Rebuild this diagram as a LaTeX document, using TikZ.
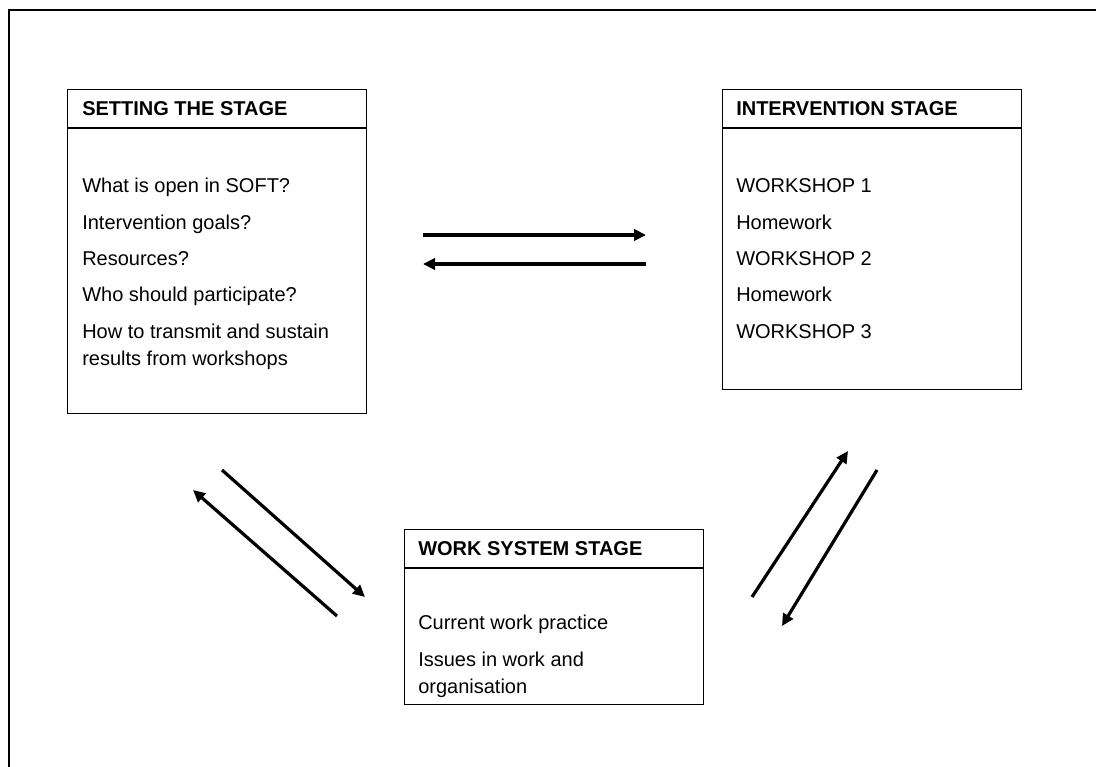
\documentclass[tikz,border=0pt]{standalone}
\usepackage{fontspec}
\setmainfont{Liberation Sans}
\usetikzlibrary{arrows.meta}
\definecolor{inkBlack}{HTML}{000000}
\definecolor{paperWhite}{HTML}{FFFFFF}
\tikzset{
    stagebox/.style={draw=inkBlack,fill=paperWhite,line width=1pt,
        minimum width=224.25pt,inner sep=0pt,anchor=north west},
    stagehead/.style={anchor=base west,inner sep=0pt,
        font=\bfseries\fontsize{15}{18}\selectfont},
    stagebody/.style={anchor=base west,inner sep=0pt,align=left,
        font=\fontsize{15}{20.25}\selectfont},
    headrule/.style={draw=inkBlack,line width=1pt},
    frameline/.style={draw=inkBlack,line width=1pt},
    flowarrow/.style={-{Triangle[length=9pt,width=8.5pt]},draw=inkBlack,line width=2.4pt}
}

\begin{document}
\begin{tikzpicture}[x=0.75pt,y=-0.75pt]
    \useasboundingbox (0,0) rectangle (1096,767);
    % outer frame, cut at the page edge
    \draw[frameline] (9,767) -- (9,10) -- (1096,10);

    \node[stagebox,minimum height=243pt] (setting) at (67,89) {};
    \node[stagebox,minimum height=225pt] (intervention) at (722,89) {};
    \node[stagebox,minimum height=131.25pt] (worksys) at (404,529) {};

    \node[stagehead] (settinghead) at ([shift={(15,27)}]setting.north west) {SETTING THE STAGE};
    \node[stagehead] (interventionhead) at ([shift={(14,27)}]intervention.north west) {INTERVENTION STAGE};
    \node[stagehead] (worksyshead) at ([shift={(14,26)}]worksys.north west) {WORK SYSTEM STAGE};

    \draw[headrule] ([shift={(0,39)}]setting.north west) -- ([shift={(0,39)}]setting.north east);
    \draw[headrule] ([shift={(0,39)}]intervention.north west) -- ([shift={(0,39)}]intervention.north east);
    \draw[headrule] ([shift={(0,39)}]worksys.north west) -- ([shift={(0,39)}]worksys.north east);

    % body text, placed by the baseline of its last line
    \node[stagebody] (settingbody) at ([shift={(15,276)}]setting.north west)
        {What is open in SOFT?\\[7pt]Intervention goals?\\[7pt]Resources?\\[7pt]Who should participate?\\[7pt]How to transmit and sustain\\results from workshops};
    \node[stagebody] (interventionbody) at ([shift={(14,249)}]intervention.north west)
        {WORKSHOP 1\\[7pt]Homework\\[7pt]WORKSHOP 2\\[7pt]Homework\\[7pt]WORKSHOP 3};
    \node[stagebody] (worksysbody) at ([shift={(14,164)}]worksys.north west)
        {Current work practice\\[7pt]Issues in work and\\organisation};

    % arrow ends
    \coordinate (si-a) at (423,235);
    \coordinate (si-b) at (646,235);
    \coordinate (is-a) at (646,264);
    \coordinate (is-b) at (423,264);
    \coordinate (sw-a) at (222,470);
    \coordinate (sw-b) at (365,597);
    \coordinate (ws-a) at (337,616);
    \coordinate (ws-b) at (193,490);
    \coordinate (wi-a) at (752,597);
    \coordinate (wi-b) at (848,451);
    \coordinate (iw-a) at (877,470);
    \coordinate (iw-b) at (782,626);

    \draw[flowarrow] (si-a) -- (si-b);
    \draw[flowarrow] (is-a) -- (is-b);
    \draw[flowarrow] (sw-a) -- (sw-b);
    \draw[flowarrow] (ws-a) -- (ws-b);
    \draw[flowarrow] (wi-a) -- (wi-b);
    \draw[flowarrow] (iw-a) -- (iw-b);
\end{tikzpicture}
\end{document}
